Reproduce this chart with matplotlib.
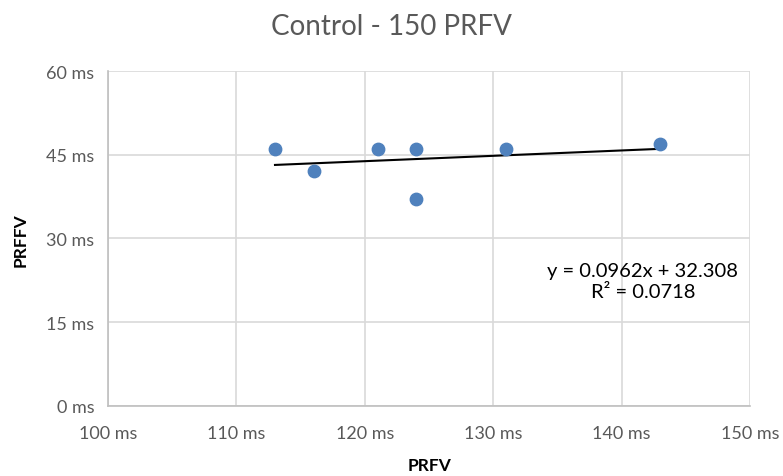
import numpy as np
import matplotlib
matplotlib.use("Agg")
import matplotlib.pyplot as plt
from matplotlib.ticker import FuncFormatter

plt.rcParams['font.family'] = ['Lato', 'DejaVu Sans']

# data
prfv_x = [113, 116, 121, 124, 124, 131, 143]
prffv_y = [46, 42, 46, 46, 37, 46, 47]
x_ticks = [100, 110, 120, 130, 140, 150]
y_ticks = [0, 15, 30, 45, 60]

fig = plt.figure(figsize=(7.83, 4.77), dpi=100)
ax = fig.add_axes([0.138, 0.147, 0.82, 0.702])

ax.scatter(prfv_x, prffv_y, s=80, color='#4f81bd', zorder=3)

# linear trendline
slope, icpt = np.polyfit(prfv_x, prffv_y, 1)
pred = np.polyval([slope, icpt], prfv_x)
r2 = 1 - np.sum((np.array(prffv_y) - pred) ** 2) / np.sum((np.array(prffv_y) - np.mean(prffv_y)) ** 2)
xs = np.array([min(prfv_x), max(prfv_x)])
ax.plot(xs, slope * xs + icpt, color='black', lw=1.5, zorder=2)

ax.text(0.833, 0.373, f"y = {slope:.4f}x + {icpt:.3f}\nR² = {r2:.4f}",
        transform=ax.transAxes, ha='center', va='center', fontsize=14.5,
        color='black', linespacing=1.25)

ax.set_xlim(100, 150)
ax.set_ylim(0, 60)
ax.set_xticks(x_ticks)
ax.set_yticks(y_ticks)
fmt = FuncFormatter(lambda v, p: f"{v:.0f} ms")
ax.xaxis.set_major_formatter(fmt)
ax.yaxis.set_major_formatter(fmt)
ax.tick_params(length=0, labelsize=13, labelcolor='#595959')
ax.tick_params(axis='x', pad=14)
ax.tick_params(axis='y', pad=10)

ax.grid(True, color='#d9d9d9', lw=1.2)
ax.set_axisbelow(True)
for s in ['top', 'right']:
    ax.spines[s].set_visible(False)
for s in ['left', 'bottom']:
    ax.spines[s].set_color('#bfbfbf')
    ax.spines[s].set_linewidth(1.2)

fig.text(0.5, 0.943, "Control - 150 PRFV", fontsize=20, color='#595959',
         ha='center', va='center')
fig.text(0.548, 0.023, "PRFV", fontsize=12.5, fontweight='bold',
         ha='center', va='center')
fig.text(0.026, 0.497, "PRFFV", fontsize=12.5, fontweight='bold',
         ha='center', va='center', rotation=90)

fig.savefig("out.png", dpi=100)
